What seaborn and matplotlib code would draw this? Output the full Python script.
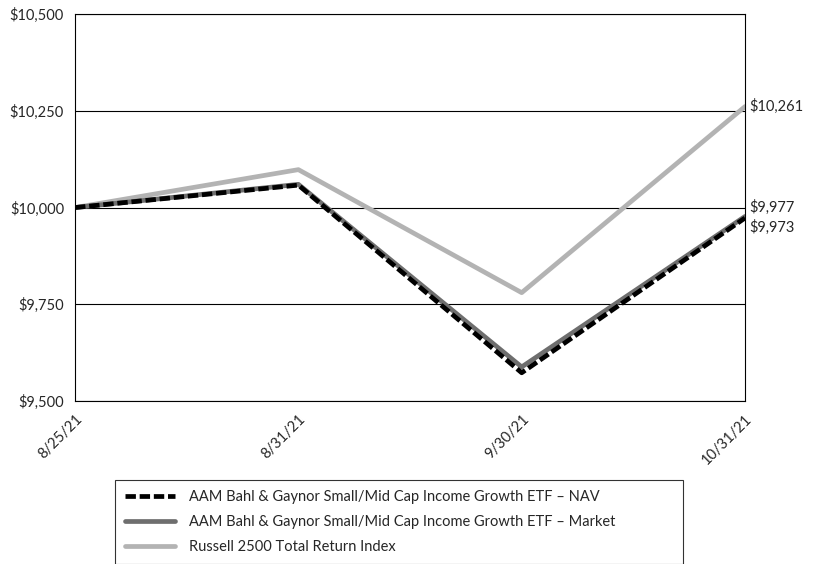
# Growth of $10,000 line chart

import pandas as pd
import matplotlib
matplotlib.use("Agg")
import matplotlib.pyplot as plt
import seaborn as sns

dates = ["8/25/21", "8/31/21", "9/30/21", "10/31/21"]
nav = [10000, 10058, 9573, 9973]
market = [10000, 10060, 9588, 9977]
russell = [10000, 10098, 9780, 10261]
names = ["AAM Bahl & Gaynor Small/Mid Cap Income Growth ETF \u2013 NAV",
         "AAM Bahl & Gaynor Small/Mid Cap Income Growth ETF \u2013 Market",
         "Russell 2500 Total Return Index"]
yticks = [9500, 9750, 10000, 10250, 10500]

df = pd.DataFrame({"date": dates * 3,
                   "value": russell + market + nav,
                   "series": [names[2]] * 4 + [names[1]] * 4 + [names[0]] * 4})
df["x"] = df["date"].map({d: i for i, d in enumerate(dates)})

sns.set_style("white")
plt.rcParams["font.family"] = ["Lato", "DejaVu Sans"]

fig = plt.figure(figsize=(8.16, 5.64), dpi=100)
ax = fig.add_axes([0.092, 0.289, 0.821, 0.686])

palette = {names[0]: "black", names[1]: "#6e6e6e", names[2]: "#b3b3b3"}
for name in [names[2], names[1], names[0]]:
    sub = df[df["series"] == name]
    sns.lineplot(data=sub, x="x", y="value", ax=ax, color=palette[name],
                 linewidth=3.4, label=name, legend=False)
ax.lines[-1].set_dashes([2.2, 0.8])

ax.set_xlim(0, len(dates) - 1)
ax.set_ylim(9500, 10500)
ax.set_yticks(yticks)
ax.set_yticklabels([f"${v:,}" for v in yticks], fontsize=10.5)
ax.set_xticks(range(len(dates)))
ax.set_xticklabels(dates, rotation=45, ha="right", rotation_mode="anchor", fontsize=10.5)
ax.tick_params(axis="x", direction="in", length=6, width=0.8, color="black", pad=8)
ax.tick_params(axis="y", length=0, pad=8)
ax.set_xlabel("")
ax.set_ylabel("")
for v in yticks:
    ax.axhline(v, color="black", linewidth=0.8, zorder=0)
for s in ax.spines.values():
    s.set_color("black")
    s.set_linewidth(0.8)

ax.text(3.02, russell[-1], f"${russell[-1]:,}", fontsize=10.5, va="center", ha="left", clip_on=False)
ax.text(3.02, market[-1] + 5, f"${market[-1]:,}", fontsize=10.5, va="bottom", ha="left", clip_on=False)
ax.text(3.02, nav[-1] - 5, f"${nav[-1]:,}", fontsize=10.5, va="top", ha="left", clip_on=False)

handles = [ax.lines[2], ax.lines[1], ax.lines[0]]
leg = fig.legend(handles, names, loc="lower left", bbox_to_anchor=(115 / 816, 0.0, 568 / 816, 87 / 564),
                 mode="expand", fontsize=10.5, frameon=True, fancybox=False, handlelength=3.4,
                 borderaxespad=0, borderpad=0.7, labelspacing=0.75, handletextpad=1.0)
leg.get_frame().set_edgecolor("black")
leg.get_frame().set_linewidth(0.8)

fig.savefig("out.png", dpi=100)
